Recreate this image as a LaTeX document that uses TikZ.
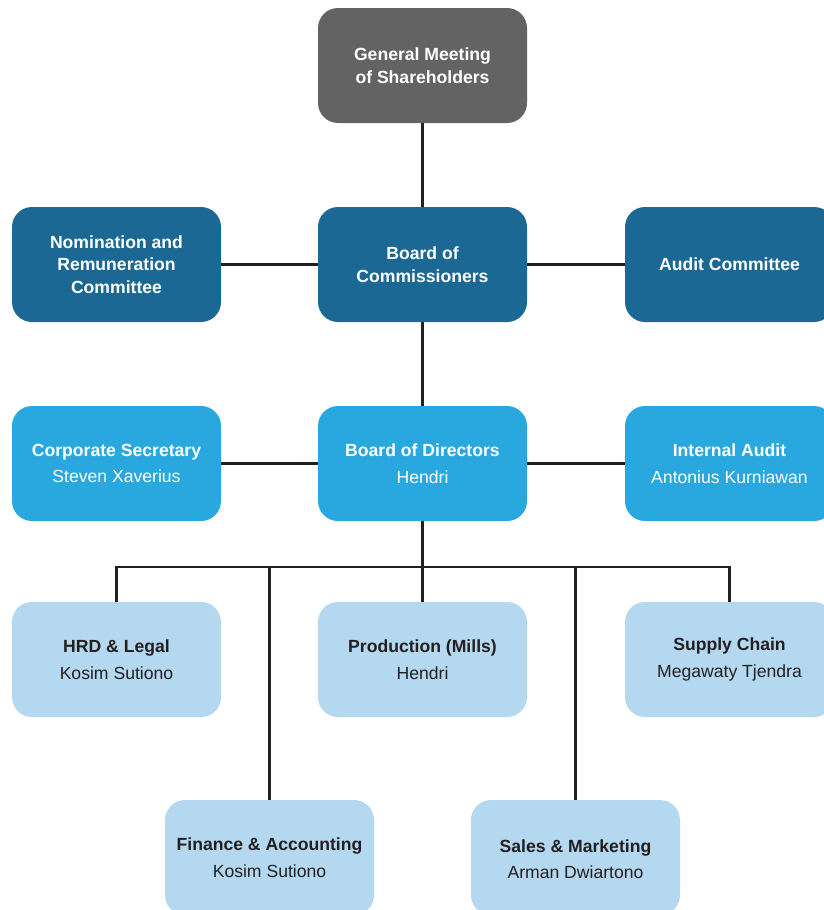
\documentclass[tikz,border=0pt]{standalone}
\usepackage{fontspec}
\setmainfont{Liberation Sans}
\definecolor{cgray}{HTML}{636363}
\definecolor{cdark}{HTML}{1B6894}
\definecolor{cmid}{HTML}{29A8E0}
\definecolor{clight}{HTML}{B3D8F0}
\definecolor{ctext}{HTML}{231F20}
\definecolor{cline}{HTML}{231F20}
\begin{document}
\begin{tikzpicture}[x=1pt,y=-1pt,
  box/.style={rectangle, rounded corners=20pt, minimum width=209pt, minimum height=115pt, inner sep=0pt, align=center, font=\fontsize{17.6}{22.5}\selectfont\bfseries},
  graybox/.style={box, fill=cgray, text=white},
  darkbox/.style={box, fill=cdark, text=white},
  midbox/.style={box, fill=cmid, text=white, font=\fontsize{17.6}{26.5}\selectfont},
  lightbox/.style={box, fill=clight, text=ctext, font=\fontsize{17.6}{26.5}\selectfont},
  conn/.style={draw=cline, line width=2.4pt}]
\fill[white] (0,0) rectangle (824,910);
\useasboundingbox (0,0) rectangle (824,910);
\coordinate (bar) at (422.5,567);
% nodes
\node[graybox] (gms) at (422.5,65.5) {General Meeting\\of Shareholders};
\node[darkbox] (boc) at (422.5,264.5) {Board of\\Commissioners};
\node[darkbox] (nrc) at (116.5,264.5) {Nomination and\\Remuneration\\Committee};
\node[darkbox] (ac) at (729.5,264.5) {Audit Committee};
\node[midbox] (bod) at (422.5,463.5) {{\bfseries Board of Directors}\\Hendri};
\node[midbox] (cs) at (116.5,463.5) {{\bfseries Corporate Secretary}\\Steven Xaverius};
\node[midbox] (ia) at (729.5,463.5) {{\bfseries Internal Audit}\\Antonius Kurniawan};
\node[lightbox] (hrd) at (116.5,659.5) {{\bfseries HRD \& Legal}\\Kosim Sutiono};
\node[lightbox] (prod) at (422.5,659.5) {{\bfseries Production (Mills)}\\Hendri};
\node[lightbox] (sc) at (729.5,659.5) {{\bfseries Supply Chain}\\Megawaty Tjendra};
\node[lightbox] (fin) at (269.5,857.5) {{\bfseries Finance \& Accounting}\\Kosim Sutiono};
\node[lightbox] (sal) at (575.5,857.5) {\\[-10pt]{\bfseries Sales \& Marketing}\\Arman Dwiartono};
% connectors
\draw[conn] (gms.south) -- (boc.north);
\draw[conn] (nrc.east) -- (boc.west);
\draw[conn] (boc.east) -- (ac.west);
\draw[conn] (boc.south) -- (bod.north);
\draw[conn] (cs.east) -- (bod.west);
\draw[conn] (bod.east) -- (ia.west);
\draw[conn] (bod.south) -- (bar);
\draw[conn, line join=miter] (hrd.north) -- (hrd.north |- bar) -- (sc.north |- bar) -- (sc.north);
\draw[conn] (prod.north) -- (prod.north |- bar);
\draw[conn] (fin.north) -- (fin.north |- bar);
\draw[conn] (sal.north) -- (sal.north |- bar);
\end{tikzpicture}
\end{document}
